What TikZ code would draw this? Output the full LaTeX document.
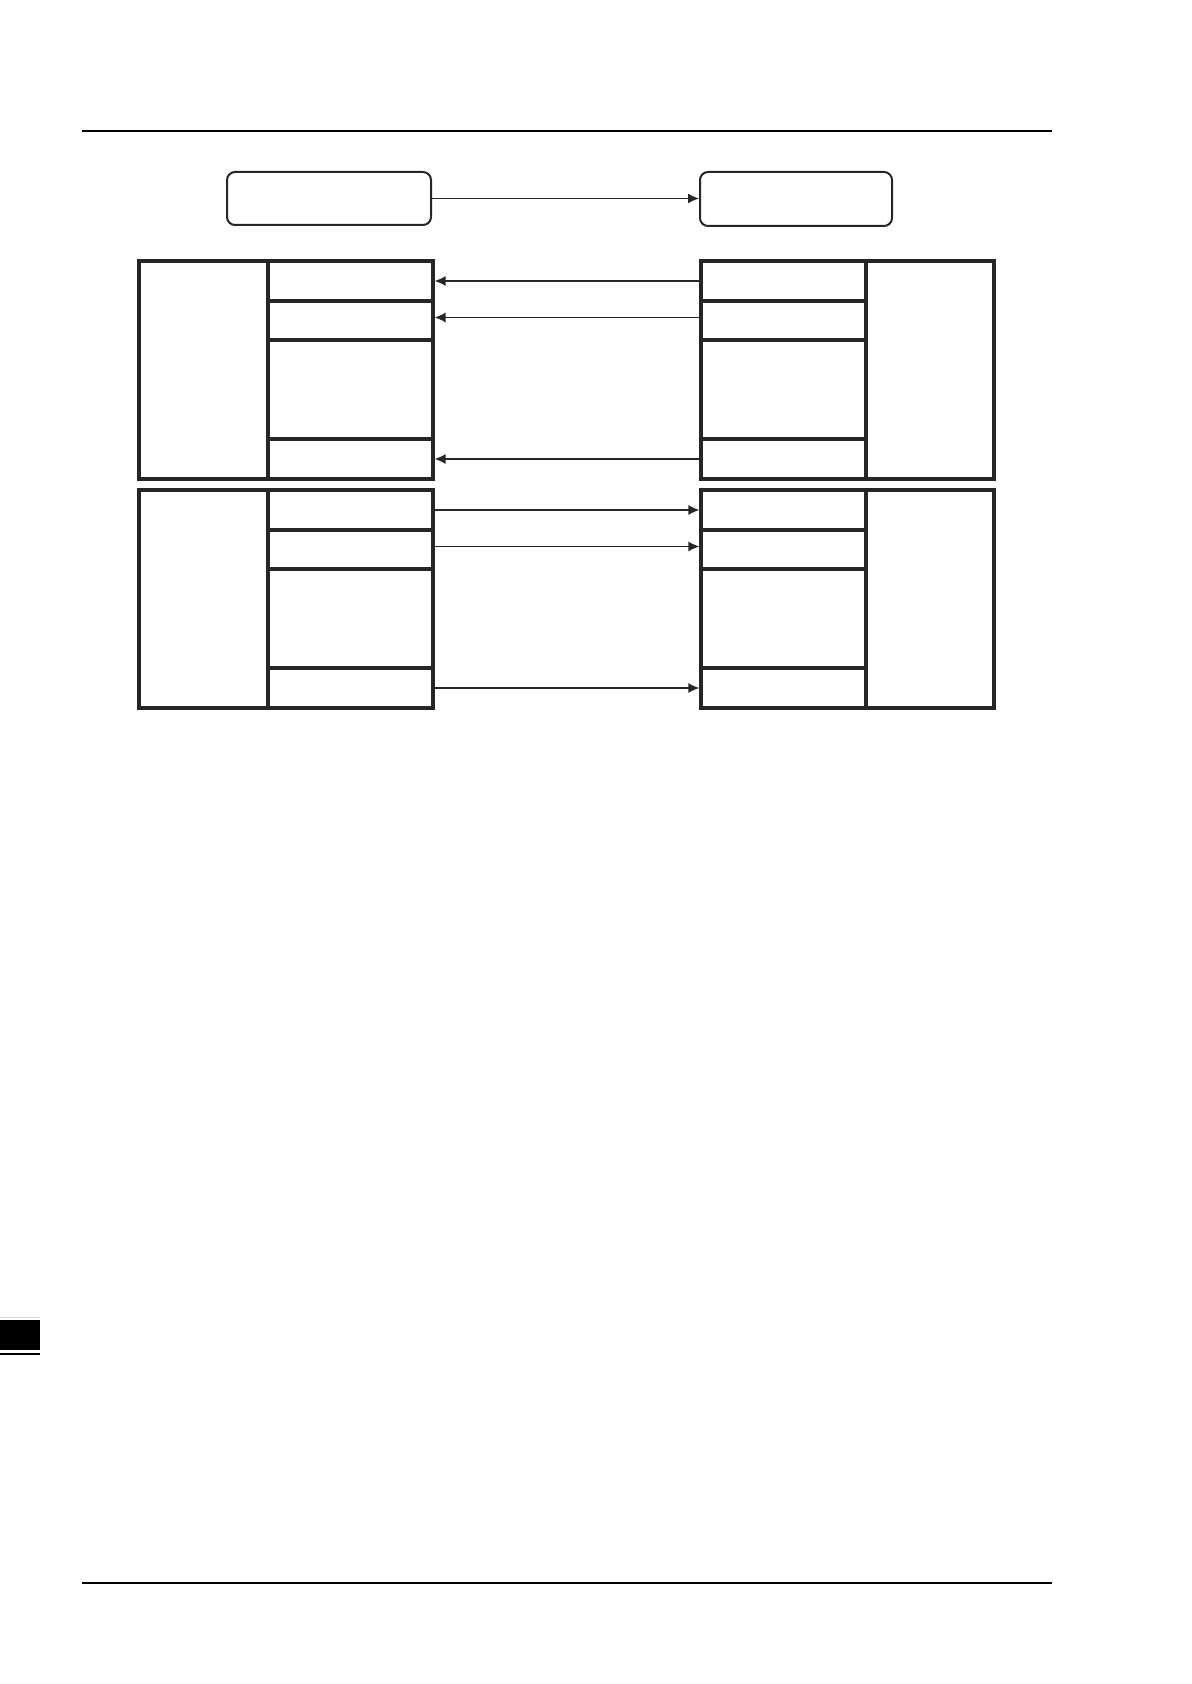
\documentclass[tikz,border=0pt]{standalone}
\usetikzlibrary{arrows.meta,fit}
\begin{document}
\begin{tikzpicture}[x=0.5pt,y=-0.5pt,
  cell/.style={draw=black!85,line width=1.6pt,inner sep=0pt},
  tag/.style={draw=black!85,line width=1pt,rounded corners=4pt,inner sep=0pt},
  link/.style={draw=black!85,line width=0.65pt,-{Latex[length=5.5pt,width=5pt]}}]
\useasboundingbox (0,0) rectangle (1191,1684);
\pgfmathsetmacro{\ya}{261}
\pgfmathsetmacro{\yb}{490}
%page rules
\draw[line width=0.8pt](82,131)--(1052,131);
\draw[line width=0.9pt](82,1583)--(1052,1583);
\draw[black!15,line width=0.5pt](0,1317)--(40,1317);
\fill(0,1320) rectangle (40,1350);
\draw[line width=0.8pt](0,1354)--(40,1354);
%top boxes
\node[tag,fit={(227,172)(431,225)}] (src) {};
\node[tag,fit={(700,172)(892,226)}] (dst) {};
\draw[link](src.east)--(src.east-|dst.west);
%upper left block
\node[cell,fit={(139,\ya)(268,\ya+218)}] (ula) {};
\node[cell,fit={(268,\ya)(433,\ya+40)}] (ul1) {};
\node[cell,fit={(268,\ya+40)(433,\ya+79)}] (ul2) {};
\node[cell,fit={(268,\ya+79)(433,\ya+178)}] (ul3) {};
\node[cell,fit={(268,\ya+178)(433,\ya+218)}] (ul4) {};
%upper right block
\node[cell,fit={(866,\ya)(994,\ya+218)}] (ura) {};
\node[cell,fit={(701,\ya)(866,\ya+40)}] (ur1) {};
\node[cell,fit={(701,\ya+40)(866,\ya+79)}] (ur2) {};
\node[cell,fit={(701,\ya+79)(866,\ya+178)}] (ur3) {};
\node[cell,fit={(701,\ya+178)(866,\ya+218)}] (ur4) {};
%lower left block
\node[cell,fit={(139,\yb)(268,\yb+218)}] (lla) {};
\node[cell,fit={(268,\yb)(433,\yb+40)}] (ll1) {};
\node[cell,fit={(268,\yb+40)(433,\yb+79)}] (ll2) {};
\node[cell,fit={(268,\yb+79)(433,\yb+178)}] (ll3) {};
\node[cell,fit={(268,\yb+178)(433,\yb+218)}] (ll4) {};
%lower right block
\node[cell,fit={(866,\yb)(994,\yb+218)}] (lra) {};
\node[cell,fit={(701,\yb)(866,\yb+40)}] (lr1) {};
\node[cell,fit={(701,\yb+40)(866,\yb+79)}] (lr2) {};
\node[cell,fit={(701,\yb+79)(866,\yb+178)}] (lr3) {};
\node[cell,fit={(701,\yb+178)(866,\yb+218)}] (lr4) {};
%links
\draw[link](ur1.west)--(ul1.east);
\draw[link]([yshift=1.5pt]ur2.west)--([yshift=1.5pt]ul2.east);
\draw[link](ur4.west)--(ul4.east);
\draw[link](ll1.east)--(lr1.west);
\draw[link]([yshift=1.5pt]ll2.east)--([yshift=1.5pt]lr2.west);
\draw[link](ll4.east)--(lr4.west);
\end{tikzpicture}
\end{document}
